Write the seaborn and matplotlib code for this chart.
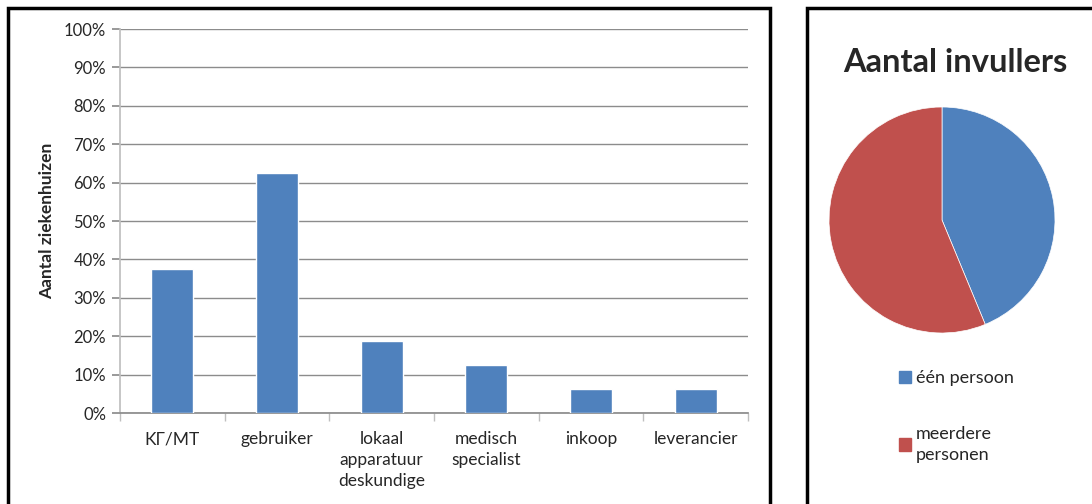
import matplotlib
matplotlib.use("Agg")
import matplotlib.pyplot as plt
import matplotlib.patches as mpatches
import numpy as np
import pandas as pd
import seaborn as sns
from matplotlib.ticker import PercentFormatter, FixedLocator

sns.set_theme(style="white")
plt.rcParams["font.family"] = ["Lato", "DejaVu Sans"]

# data
categories = ["KГ/MT", "gebruiker", "lokaal\napparatuur\ndeskundige",
              "medisch\nspecialist", "inkoop", "leverancier"]
shares = [37.5, 62.5, 18.75, 12.5, 6.25, 6.25]
pie_labels = ["één persoon", "meerdere\npersonen"]
pie_values = [7, 9]

_BLUE = "#4F81BD"
_RED = "#C0504D"
_GRID = "#8C8C8C"

W, H = 1092, 504
fig = plt.figure(figsize=(W / 100, H / 100), dpi=100)


def _box(x0, y0, x1, y1):
    # pixel coords (top-left origin) -> figure fraction rectangle
    return [x0 / W, 1 - y1 / H, (x1 - x0) / W, (y1 - y0) / H]


# panel frames
for x0, y0, x1, y1 in [(8, 8, 770, 510), (807, 8, 1100, 510)]:
    b = _box(x0, y0, x1, y1)
    fig.patches.append(mpatches.Rectangle((b[0], b[1]), b[2], b[3], transform=fig.transFigure,
                                          fill=False, edgecolor="black", linewidth=2.5, zorder=0))

# bar chart
ax = fig.add_axes(_box(120, 29, 748, 413))
df = pd.DataFrame({"cat": categories, "val": shares})
sns.barplot(data=df, x="cat", y="val", color=_BLUE, width=0.4, saturation=1, ax=ax, zorder=3)
ax.set_ylim(0, 100)
ax.set_xlim(-0.5, 5.5)
ax.yaxis.set_major_locator(FixedLocator(np.arange(0, 101, 10)))
ax.yaxis.set_major_formatter(PercentFormatter(decimals=0))
ax.grid(axis="y", color=_GRID, linewidth=1, zorder=0)
ax.set_axisbelow(True)
for side in ["top", "right"]:
    ax.spines[side].set_visible(False)
ax.spines["left"].set_color("#BFBFBF")
ax.spines["bottom"].set_color(_GRID)
ax.tick_params(axis="y", length=6, color=_GRID, left=True, labelsize=12, pad=4)
ax.tick_params(axis="x", which="major", length=0, labelsize=12.5, pad=13)
ax.xaxis.set_minor_locator(FixedLocator(np.arange(-0.5, 6, 1)))
ax.tick_params(axis="x", which="minor", length=6, color="#BFBFBF", bottom=True)
for lbl in ax.get_xticklabels():
    lbl.set_linespacing(1.4)
    lbl.set_verticalalignment("top")
ax.set_xlabel("")
ax.set_ylabel("Aantal ziekenhuizen", fontsize=12.5, fontweight="bold", labelpad=6)

# pie chart
pax = fig.add_axes(_box(828, 107, 1056, 333))
pax.pie(pie_values, colors=[_BLUE, _RED], startangle=90, counterclock=False,
        wedgeprops={"linewidth": 0.5, "edgecolor": "white"})
pax.set_xlim(-1, 1)
pax.set_ylim(-1, 1)
pax.set_aspect("equal")
fig.text(955 / W, 1 - 63 / H, "Aantal invullers", ha="center", va="center",
         fontsize=23.5, fontweight="bold")
handles = [mpatches.Patch(color=_BLUE), mpatches.Patch(color=_RED)]
leg = fig.legend(handles, pie_labels, loc="upper left", bbox_to_anchor=(890 / W, 1 - 361 / H),
                 frameon=False, fontsize=13, handlelength=0.65, handleheight=0.65,
                 handletextpad=0.3, labelspacing=2.2, borderpad=0)
for t in leg.get_texts():
    t.set_linespacing(1.4)

fig.savefig("out.png", dpi=100)
